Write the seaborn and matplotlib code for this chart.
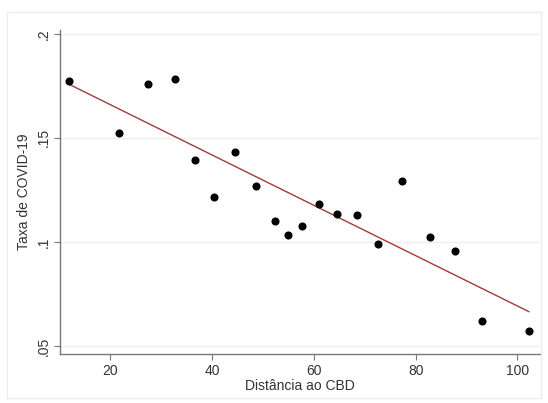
import numpy as np
import pandas as pd
import matplotlib
matplotlib.use("Agg")
import matplotlib.pyplot as plt
import matplotlib.patches as mpatches
import seaborn as sns

# dados
distancia = [11.9, 21.7, 27.4, 32.7, 36.6, 40.4, 44.5, 48.6, 52.3, 54.9,
             57.7, 61.0, 64.5, 68.5, 72.6, 77.3, 82.8, 87.7, 93.0, 102.3]
taxa = [0.1774, 0.1524, 0.1760, 0.1784, 0.1394, 0.1216, 0.1433, 0.1269, 0.1100, 0.1033,
        0.1076, 0.1182, 0.1134, 0.1129, 0.0990, 0.1293, 0.1024, 0.0956, 0.0620, 0.0571]
yticks = [0.05, 0.1, 0.15, 0.2]
ytick_labels = [".05", ".1", ".15", ".2"]
xticks = [20, 40, 60, 80, 100]

df = pd.DataFrame({"Distancia": distancia, "Taxa": taxa})

sns.set_style("white")
plt.rcParams["font.family"] = ["Liberation Sans", "DejaVu Sans"]

fig = plt.figure(figsize=(5.48, 4.03), dpi=100)
ax = fig.add_axes([0.1095, 0.1216, 0.8755, 0.804])

# moldura externa clarinha (estilo Stata)
fig.patches.append(mpatches.Rectangle((0.013, 0.012), 0.975, 0.958, transform=fig.transFigure,
                                      fill=False, edgecolor="#ececec", linewidth=1.0))

sns.regplot(data=df, x="Distancia", y="Taxa", ci=None, ax=ax,
            scatter_kws={"color": "black", "s": 34, "linewidths": 0, "alpha": 1, "zorder": 3},
            line_kws={"color": "#a33a3e", "linewidth": 1.0, "zorder": 2})

ax.set_xlim(10.1, 104.4)
ax.set_ylim(0.0461, 0.2019)
ax.set_yticks(yticks)
ax.set_yticklabels(ytick_labels, rotation=90, va="center")
ax.set_xticks(xticks)

for y in yticks:
    ax.axhline(y, color="#eeeeee", linewidth=1.0, zorder=0)

ax.spines["top"].set_visible(False)
ax.spines["right"].set_visible(False)
for s in ["left", "bottom"]:
    ax.spines[s].set_color("#777777")
    ax.spines[s].set_linewidth(1.0)

ax.tick_params(axis="both", direction="out", length=4, width=0.8, color="#777777",
               labelsize=10, labelcolor="#333333", pad=3, left=True, bottom=True)

ax.set_xlabel("Distância ao CBD", fontsize=10, color="#333333", labelpad=1)
ax.set_ylabel("Taxa de COVID-19", fontsize=10, color="#333333", labelpad=4)

fig.savefig("out.png", dpi=100)
